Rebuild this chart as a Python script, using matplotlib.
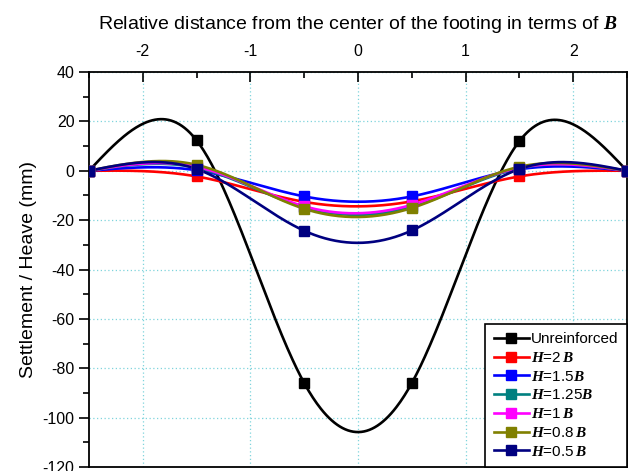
import numpy as np
import matplotlib
matplotlib.use("Agg")
import matplotlib.pyplot as plt
from matplotlib.ticker import MultipleLocator

plt.rcParams['font.family'] = ['Liberation Sans', 'DejaVu Sans']
plt.rcParams['axes.unicode_minus'] = False
plt.rcParams['mathtext.fontset'] = 'custom'
plt.rcParams['mathtext.rm'] = 'Liberation Sans'
plt.rcParams['mathtext.bfit'] = 'Liberation Serif:italic:bold'

x_pos = [-2.5, -1.5, -0.5, 0.5, 1.5, 2.5]
unreinforced = [0, 12.3, -86, -86, 12.0, 0]
h_2b = [0, -2.3, -12.6, -12.4, -2.3, 0]
h_15b = [0, 0.2, -10.4, -10.4, 0.6, 0]
h_125b = [0, 1.2, -14.8, -14.6, 1.0, 0]
h_1b = [0, 1.6, -14.4, -13.8, 1.2, 0]
h_08b = [0, 2.4, -15.4, -15.1, 1.6, 0]
h_05b = [0, 0.7, -24.3, -24.2, 0.7, 0]

labels = ['Unreinforced', r'$\mathbfit{H}$=2$\,\mathbfit{B}$', r'$\mathbfit{H}$=1.5$\mathbfit{B}$',
          r'$\mathbfit{H}$=1.25$\mathbfit{B}$', r'$\mathbfit{H}$=1$\,\mathbfit{B}$',
          r'$\mathbfit{H}$=0.8$\,\mathbfit{B}$', r'$\mathbfit{H}$=0.5$\,\mathbfit{B}$']
series = [unreinforced, h_2b, h_15b, h_125b, h_1b, h_08b, h_05b]
colors = ['#000000', '#FF0000', '#0000FF', '#008080', '#FF00FF', '#808000', '#000080']


def natural_spline(x, y, n=400):
    x = np.asarray(x, float); y = np.asarray(y, float)
    m = len(x); h = np.diff(x)
    A = np.zeros((m, m)); r = np.zeros(m)
    A[0, 0] = A[-1, -1] = 1
    for i in range(1, m - 1):
        A[i, i - 1] = h[i - 1]; A[i, i] = 2 * (h[i - 1] + h[i]); A[i, i + 1] = h[i]
        r[i] = 6 * ((y[i + 1] - y[i]) / h[i] - (y[i] - y[i - 1]) / h[i - 1])
    M = np.linalg.solve(A, r)
    xs = np.linspace(x[0], x[-1], n)
    idx = np.clip(np.searchsorted(x, xs) - 1, 0, m - 2)
    x0, x1 = x[idx], x[idx + 1]; hh = x1 - x0
    a = (x1 - xs) / hh; b = (xs - x0) / hh
    ys = a * y[idx] + b * y[idx + 1] + ((a**3 - a) * M[idx] + (b**3 - b) * M[idx + 1]) * hh**2 / 6
    return xs, ys


fig = plt.figure(figsize=(6.33, 4.71), dpi=100)
ax = fig.add_axes([89 / 633, 4 / 471, 538 / 633, 395 / 471])

for s, c, lab in zip(series, colors, labels):
    xs, ys = natural_spline(x_pos, s)
    ax.plot(xs, ys, color=c, lw=1.9, zorder=3)
    ax.plot(x_pos, s, 's', color=c, ms=6.5, zorder=4)
    ax.plot([], [], '-s', color=c, lw=1.9, ms=6.5, label=lab)

ax.set_xlim(-2.5, 2.5)
ax.set_ylim(-120, 40)
ax.xaxis.tick_top()
ax.xaxis.set_label_position('top')
ax.xaxis.set_major_locator(MultipleLocator(1))
ax.xaxis.set_minor_locator(MultipleLocator(0.5))
ax.yaxis.set_major_locator(MultipleLocator(20))
ax.yaxis.set_minor_locator(MultipleLocator(10))
ax.tick_params(axis='x', which='both', direction='in', labelsize=11.5, pad=9)
ax.tick_params(axis='x', which='major', length=7, width=1.2)
ax.tick_params(axis='x', which='minor', length=4, width=1.2)
ax.tick_params(axis='y', which='both', direction='out', labelsize=11.5)
ax.tick_params(axis='y', which='major', length=7, width=1.2)
ax.tick_params(axis='y', which='minor', length=4, width=1.2)
for sp in ax.spines.values():
    sp.set_linewidth(1.3)

ax.grid(True, which='major', color='#7FD4DC', linestyle=(0, (1, 2)), lw=0.9)
ax.set_axisbelow(True)

ax.set_xlabel(r'Relative distance from the center of the footing in terms of $\mathbfit{B}$',
              fontsize=14, labelpad=11)
ax.set_ylabel('Settlement / Heave (mm)', fontsize=14, labelpad=4)

leg = ax.legend(loc='lower right', fontsize=11, frameon=True, fancybox=False,
                edgecolor='black', framealpha=1, handlelength=2.3, handletextpad=0.15,
                borderaxespad=0.0, labelspacing=0.31, borderpad=0.55)
leg.get_frame().set_linewidth(1.2)

fig.savefig('out.png', dpi=100)
